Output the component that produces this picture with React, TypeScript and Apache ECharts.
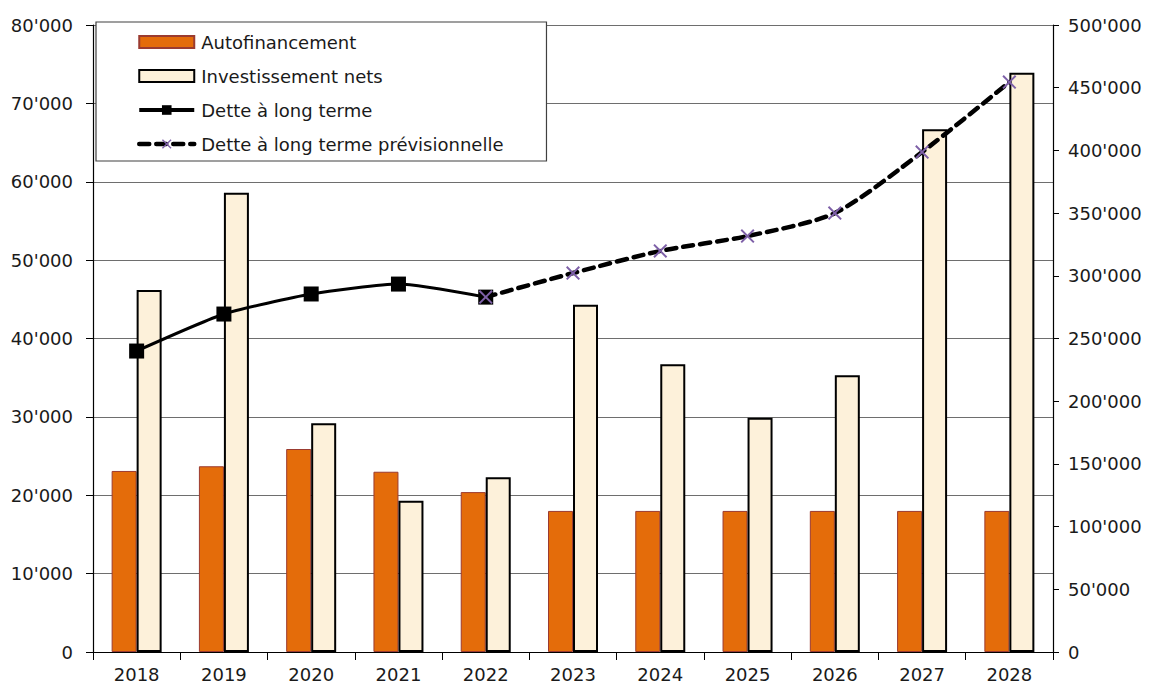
import React, { useEffect, useRef } from "react";
import * as echarts from "echarts";

const years = ["2018", "2019", "2020", "2021", "2022", "2023", "2024", "2025", "2026", "2027", "2028"];
const autofinancement = [23100, 23700, 25900, 23000, 20400, 18000, 18000, 18000, 18000, 18000, 18000];
const investissements = [46200, 58600, 29200, 19300, 22300, 44300, 36700, 29900, 35300, 66700, 73900];
const detteLongTerme = [240000, 269500, 285500, 293400, 283000, null, null, null, null, null, null];
const dettePrevisionnelle = [null, null, null, null, 283000, 302200, 319800, 331700, 350000, 398700, 454500];

const FONT = "DejaVu Sans";
const fmt = (v: number) => String(v).replace(/\B(?=(\d{3})+(?!\d))/g, "'");
const crossPath = "path://M0,1 L1,0 L5,4 L9,0 L10,1 L6,5 L10,9 L9,10 L5,6 L1,10 L0,9 L4,5 Z";

export default function App() {
  const ref = useRef<HTMLDivElement>(null);
  useEffect(() => {
    if (!ref.current) return;
    const chart = echarts.init(ref.current, null, { renderer: "svg" });
    chart.setOption({
      animation: false,
      backgroundColor: "#ffffff",
      textStyle: { fontFamily: FONT },
      grid: { left: 93, right: 98, top: 25, bottom: 37, containLabel: false },
      legend: {
        orient: "vertical",
        left: 96,
        top: 22,
        padding: [11, 43, 8, 41],
        itemGap: 16,
        itemWidth: 55,
        itemHeight: 12,
        borderColor: "#404040",
        borderWidth: 1.2,
        backgroundColor: "#ffffff",
        textStyle: { fontFamily: FONT, fontSize: 18, color: "#1a1a1a", padding: [0, 0, 0, 2] },
        data: [
          { name: "Autofinancement", icon: "rect" },
          { name: "Investissement nets", icon: "rect" },
          { name: "Dette à long terme", lineStyle: { width: 4 } },
          { name: "Dette à long terme prévisionnelle", lineStyle: { width: 4.5 } },
        ],
      },
      xAxis: {
        type: "category",
        data: years,
        axisLine: { lineStyle: { color: "#000", width: 1.2 } },
        axisTick: { show: true, length: 8, lineStyle: { color: "#000" } },
        axisLabel: { color: "#1a1a1a", fontSize: 18, fontFamily: FONT, margin: 13 },
      },
      yAxis: [
        {
          type: "value",
          min: 0,
          max: 80000,
          interval: 10000,
          axisLine: { show: true, lineStyle: { color: "#000", width: 1.2 } },
          axisTick: { show: true, length: 7, lineStyle: { color: "#000" } },
          axisLabel: { color: "#1a1a1a", fontSize: 18, fontFamily: FONT, margin: 20, formatter: fmt },
          splitLine: { show: true, lineStyle: { color: "#6e6e6e", width: 1 } },
        },
        {
          type: "value",
          min: 0,
          max: 500000,
          interval: 50000,
          position: "right",
          axisLine: { show: true, lineStyle: { color: "#000", width: 1.2 } },
          axisTick: { show: true, length: 6, lineStyle: { color: "#000" } },
          axisLabel: { color: "#1a1a1a", fontSize: 18, fontFamily: FONT, margin: 15, formatter: fmt },
          splitLine: { show: false },
        },
      ],
      series: [
        {
          name: "Autofinancement",
          type: "bar",
          yAxisIndex: 0,
          data: autofinancement,
          barWidth: 25,
          barGap: "0%",
          itemStyle: { color: "#E46C0A", borderColor: "#9B3B30", borderWidth: 1 },
          z: 2,
        },
        {
          name: "Investissement nets",
          type: "bar",
          yAxisIndex: 0,
          data: investissements,
          barWidth: 25,
          barGap: "0%",
          itemStyle: { color: "#FDF1DA", borderColor: "#000", borderWidth: 2 },
          z: 2,
        },
        {
          name: "Dette à long terme",
          type: "line",
          yAxisIndex: 1,
          data: detteLongTerme,
          smooth: 0.18,
          symbol: "rect",
          symbolSize: 15,
          showAllSymbol: true,
          connectNulls: false,
          lineStyle: { color: "#000", width: 3 },
          itemStyle: { color: "#000" },
          z: 5,
        },
        {
          name: "Dette à long terme prévisionnelle",
          type: "line",
          yAxisIndex: 1,
          data: dettePrevisionnelle,
          smooth: 0.25,
          symbol: crossPath,
          symbolSize: 14,
          showAllSymbol: true,
          connectNulls: false,
          lineStyle: { color: "#000", width: 4.5, type: [10, 7], cap: "round" },
          itemStyle: { color: "#7E60A8" },
          z: 6,
        },
      ],
    });
    return () => chart.dispose();
  }, []);
  return <div ref={ref} style={{ position: "fixed", left: 0, top: 0, width: 1151, height: 689 }} />;
}
